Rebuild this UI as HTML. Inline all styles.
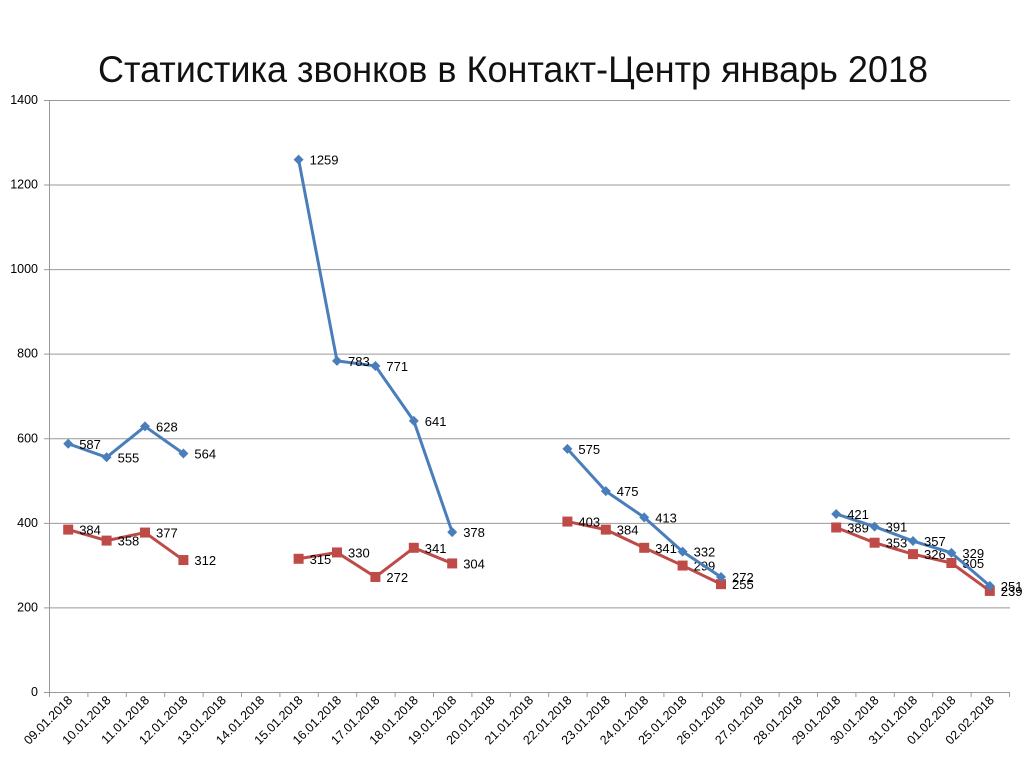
<!DOCTYPE html>
<html><head><meta charset="utf-8"><style>body{margin:0;background:#fff}svg{display:block}</style></head><body>
<svg width="1024" height="767" xmlns="http://www.w3.org/2000/svg" font-family="Liberation Sans, sans-serif">
<text x="98" y="82" font-size="37" textLength="830" lengthAdjust="spacingAndGlyphs" fill="#111">Статистика звонков в Контакт-Центр январь 2018</text>
<g id="grid" stroke="#999" stroke-width="1"></g>
<g id="ylab" font-size="12.5" text-anchor="end" fill="#000"></g>
<g id="xax"></g>
<g id="ser"></g>
<script>
const NS="http://www.w3.org/2000/svg";
function el(t,a,p,txt){const e=document.createElementNS(NS,t);for(const k in a)e.setAttribute(k,a[k]);if(txt!==undefined)e.textContent=txt;p.appendChild(e);return e;}
const Y=v=>692-v*0.4229, X=i=>68.2+38.4*i;
const g=document.getElementById('grid'),yl=document.getElementById('ylab'),xa=document.getElementById('xax'),s=document.getElementById('ser');
for(let v=0;v<=1400;v+=200){const y=Y(v);el('line',{x1:44,x2:1010,y1:y+.5,y2:y+.5},g);el('text',{x:38,y:y+4},yl,String(v));}
el('line',{x1:49.5,x2:49.5,y1:100,y2:692},g);
const dates=[];for(let d=9;d<=31;d++)dates.push((d<10?'0':'')+d+'.01.2018');dates.push('01.02.2018','02.02.2018');
for(let i=0;i<=25;i++){const x=49.5+38.4*i;el('line',{x1:x,x2:x,y1:692,y2:697,stroke:'#999'},xa);}
dates.forEach((d,i)=>{const x=X(i)+5,y=701;el('text',{x:x,y:y,'font-size':12.5,'text-anchor':'end',transform:`rotate(-45 ${x} ${y})`},xa,d);});
const blue=[[0,587],[1,555],[2,628],[3,564],null,[6,1259],[7,783],[8,771],[9,641],[10,378],null,[13,575],[14,475],[15,413],[16,332],[17,272],null,[20,421],[21,391],[22,357],[23,329],[24,251]];
const red=[[0,384],[1,358],[2,377],[3,312],null,[6,315],[7,330],[8,272],[9,341],[10,304],null,[13,403],[14,384],[15,341],[16,299],[17,255],null,[20,389],[21,353],[22,326],[23,305],[24,239]];
function draw(data,col,mk){let segs=[[]];data.forEach(p=>{if(!p)segs.push([]);else segs[segs.length-1].push(p);});
segs.forEach(sg=>el('polyline',{points:sg.map(p=>X(p[0])+','+Y(p[1])).join(' '),fill:'none',stroke:col,'stroke-width':3,'stroke-linejoin':'round'},s));
data.forEach(p=>{if(!p)return;const x=X(p[0]),y=Y(p[1]);
if(mk==='d')el('polygon',{points:`${x},${y-5} ${x+5},${y} ${x},${y+5} ${x-5},${y}`,fill:col},s);
else el('rect',{x:x-5,y:y-5,width:10,height:10,fill:col},s);});
data.forEach(p=>{if(!p)return;el('text',{x:X(p[0])+11,y:Y(p[1])+5,'font-size':13,fill:'#000'},s,String(p[1]));});}
draw(red,'#be4b48','s');draw(blue,'#4a7ebb','d');
</script>
</svg>
</body></html>
